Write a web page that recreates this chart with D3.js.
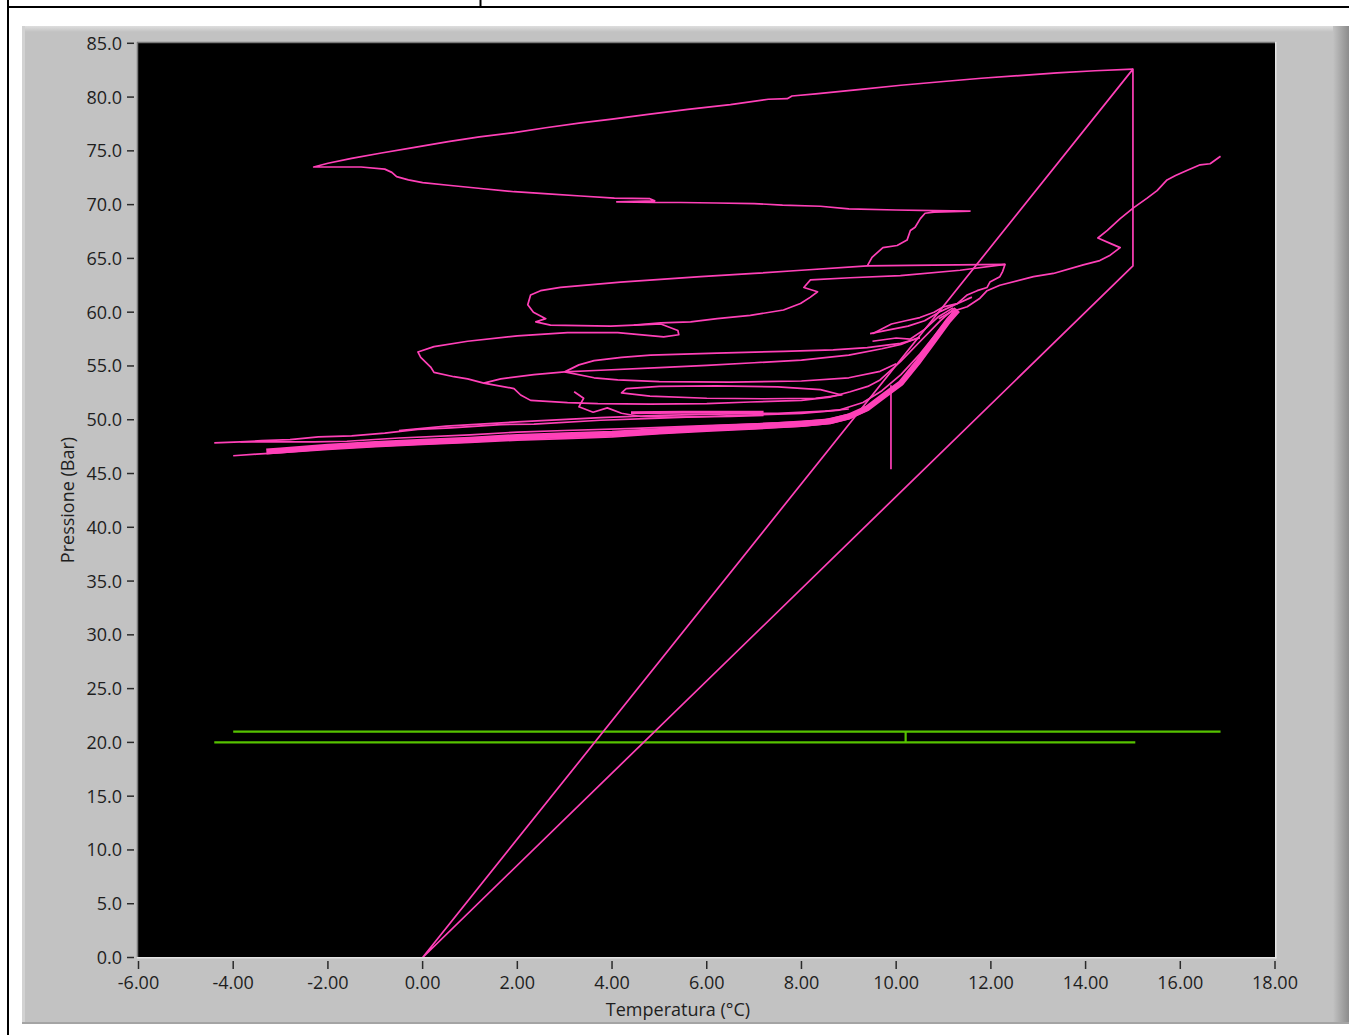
<!DOCTYPE html>
<html><head><meta charset="utf-8">
<script src="https://cdn.jsdelivr.net/npm/d3@7"></script>
<style>html,body{margin:0;padding:0;background:#fff;overflow:hidden}svg{display:block}</style>
</head><body>
<svg id="c" width="1349" height="1035"></svg>
<script>
// ---------- axis ticks ----------
const xTickValues = [-6,-4,-2,0,2,4,6,8,10,12,14,16,18];
const xTickLabels = ["-6.00","-4.00","-2.00","0.00","2.00","4.00","6.00","8.00","10.00","12.00","14.00","16.00","18.00"];
const yTickValues = [0,5,10,15,20,25,30,35,40,45,50,55,60,65,70,75,80,85];
const yTickLabels = ["0.0","5.0","10.0","15.0","20.0","25.0","30.0","35.0","40.0","45.0","50.0","55.0","60.0","65.0","70.0","75.0","80.0","85.0"];
const xTitle = "Temperatura (°C)";
const yTitle = "Pressione (Bar)";

// ---------- pink trace (Temperatura, Pressione) ----------
const pinkFrame = [[0,0],[15.0,82.6],[15.0,64.3],[0,0]];

const pinkUpperLoop = [[15.0,82.6],[14.2,82.45],[13.4,82.25],[12.6,82.0],[11.8,81.75],[11.0,81.45],[10.1,81.1],[9.2,80.7],[8.3,80.3],[7.8,80.1],[7.7,79.85],[7.3,79.8],[6.5,79.3],[5.6,78.85],[4.76,78.4],[4.0,77.95],[3.34,77.6],[2.6,77.15],[1.93,76.7],[1.2,76.3],[0.54,75.85],[-0.2,75.3],[-0.87,74.8],[-1.5,74.3],[-2.0,73.85],[-2.3,73.5],
 [-1.9,73.5],[-1.3,73.5],[-0.8,73.3],[-0.65,73.0],[-0.55,72.6],[-0.3,72.3],[0.0,72.05],[0.54,71.8],[1.23,71.5],[1.93,71.2],[2.65,71.0],[3.34,70.8],[4.05,70.6],[4.8,70.55],[4.9,70.35],[4.1,70.25],[4.9,70.2],[5.45,70.2],[6.2,70.15],[7.0,70.1],[7.6,69.95],[8.4,69.85],[9.0,69.6],[10.0,69.5],[10.8,69.45],[11.56,69.4],[10.8,69.3],[10.61,69.2],[10.51,68.7],[10.40,67.9],[10.30,67.6],[10.23,66.7],[10.02,66.2],[9.72,66.0],[9.49,65.1],[9.39,64.3],
 [10.3,64.35],[11.3,64.4],[12.3,64.45],[12.25,63.8],[12.19,63.3],[11.98,62.8],[11.92,62.3],[11.71,62.0],[11.50,61.6],[11.29,60.8],[11.0,60.5],[10.8,60.0],[10.5,59.5],[10.2,59.2],[9.9,58.9],[9.5,58.0]];

const pinkMidLoop = [[9.39,64.3],[8.0,63.9],[7.0,63.6],[5.87,63.3],[4.18,62.8],[2.91,62.3],[2.49,62.0],[2.28,61.6],[2.22,60.7],[2.34,60.0],[2.6,59.4],[2.39,59.1],[2.70,58.8],[3.97,58.7],[4.46,58.8],[5.03,58.9],[5.39,58.3],[5.41,57.9],[5.09,57.7],[4.12,58.1],[3.06,58.1],[2.0,57.8],[0.95,57.3],[0.24,56.8],[-0.10,56.3],[-0.04,55.8],[0.17,54.9],[0.24,54.4],[0.66,54.0],[0.95,53.8],[1.29,53.4],[1.93,52.9],[2.07,52.3],[2.28,51.8],[3.06,51.6],[3.70,51.5],[4.81,51.45],[6.0,51.5],[6.92,51.65],[8.0,51.8],[8.6,52.1],[9.03,52.6],[9.4,53.1],[9.66,53.7],[10.09,55.4],[10.51,57.3],[10.93,59.2],[11.24,60.4]];

const pinkWiggleBranch = [[12.3,64.45],[11.35,63.9],[10.09,63.4],[9.03,63.2],[8.19,63.0],[8.05,62.3],[8.34,61.9],[8.19,61.4],[7.98,60.8],[7.62,60.2],[6.92,59.7],[6.22,59.4],[5.66,59.1],[5.03,59.0],[4.46,58.8]];

const pinkRightBranch = [[16.85,74.5],[16.63,73.8],[16.42,73.7],[16.15,73.2],[15.9,72.7],[15.72,72.3],[15.51,71.3],[15.30,70.6],[15.01,69.7],[14.73,68.7],[14.46,67.6],[14.26,66.9],[14.52,66.4],[14.73,66.0],[14.52,65.3],[14.3,64.8],[13.95,64.4],[13.32,63.6],[12.90,63.3],[12.19,62.5],[11.92,62.0],[11.77,61.3],[11.50,60.5],[11.14,60.0],[10.9,59.4]];

const pinkLoopBranch = [[1.29,53.4],[1.65,53.8],[2.35,54.2],[3.0,54.45],[3.76,54.6],[5.0,54.85],[6.0,55.05],[7.0,55.3],[8.0,55.55],[9.0,56.0],[9.7,56.6],[10.1,57.0],[10.5,57.7]];
const pinkLoopUpperArm = [[3.0,54.45],[3.3,55.1],[3.62,55.5],[4.2,55.8],[4.81,56.0],[6.22,56.2],[7.62,56.35],[8.67,56.5],[9.39,56.7],[10.09,57.1],[10.5,57.6]];
const pinkLoopLowerArm = [[3.0,54.45],[3.62,53.9],[4.12,53.7],[5.0,53.55],[6.5,53.5],[8.0,53.6],[9.0,53.9],[9.66,54.5],[10.0,55.2]];
const pinkEllipse = [[4.3,52.9],[5.0,53.1],[6.2,53.15],[7.5,53.05],[8.4,52.8],[8.85,52.3],[8.3,52.0],[7.2,51.95],[6.0,52.0],[4.8,52.2],[4.2,52.5],[4.3,52.9]];
const pinkTangle = [[3.2,52.6],[3.4,52.0],[3.3,51.2],[3.6,50.7],[3.9,51.1],[4.2,50.6],[4.6,50.3],[5.3,50.25],[6.5,50.3],[7.2,50.4]];
const pinkShortThick = [[4.4,50.65],[5.5,50.7],[7.2,50.7]];
const pinkCluster1 = [[9.45,58.0],[9.9,58.4],[10.25,58.7],[10.6,59.2],[10.95,60.1],[11.3,60.8],[11.6,61.4]];
const pinkCluster2 = [[9.5,57.3],[10.0,57.6],[10.3,57.5],[10.6,58.4],[10.9,59.6],[11.2,60.4]];

const pinkBandCore = [[-3.3,47.05],[-3.0,47.15],[-2.0,47.5],[-1.0,47.75],[0.0,47.95],[1.0,48.15],[2.0,48.4],[3.0,48.55],[4.0,48.7],[5.0,48.95],[6.0,49.2],[7.0,49.4],[8.0,49.6],[8.6,49.85],[9.0,50.3],[9.4,51.1],[9.7,52.1],[10.1,53.4],[10.45,55.3],[10.8,57.4],[11.1,59.2],[11.3,60.2]];
const pinkBandLowEdge = [[-4.0,46.65],[-3.5,46.8],[-3.0,46.95],[-2.0,47.25],[-1.0,47.5],[0.0,47.7],[1.0,47.9],[2.0,48.1],[3.0,48.25],[4.0,48.4],[5.0,48.7],[6.0,48.95],[7.0,49.15],[8.0,49.4],[8.6,49.65],[9.0,50.1],[9.4,50.9]];
const pinkBandHighEdge = [[-3.85,47.95],[-3.0,47.95],[-2.3,47.95],[-1.6,48.0],[-0.5,48.3],[1.0,48.6],[2.0,48.85],[3.0,49.0],[4.5,49.2],[6.0,49.45],[7.5,49.7],[8.5,50.0],[9.1,50.6],[9.5,51.5]];
const pinkBandTopLine = [[-4.4,47.85],[-3.85,47.95],[-3.4,48.05],[-2.8,48.15],[-2.2,48.4],[-1.5,48.5],[-0.8,48.75],[-0.1,49.1],[0.6,49.25],[1.65,49.55],[2.35,49.6],[3.76,49.95],[5.0,50.15],[6.0,50.3],[7.0,50.45],[8.0,50.6],[8.8,50.9],[9.3,51.6],[9.7,52.7],[10.1,54.2],[10.5,56.1],[10.9,58.3],[11.2,60.0]];
const pinkBandTopLine2 = [[-0.5,49.0],[0.5,49.4],[2.0,49.8],[3.76,50.2],[5.0,50.4],[6.5,50.55],[7.5,50.6],[8.5,50.8],[9.0,51.0]];
const pinkVertical = [[9.89,53.2],[9.89,45.4]];

// ---------- green trace ----------
const greenLower = [[-4.4,20.0],[15.05,20.0]];
const greenUpper = [[-4.0,21.0],[16.85,21.0]];
const greenJoin = [[10.2,20.0],[10.2,21.0]];

// ---------- drawing ----------
const W = 1349, H = 1035;
const svg = d3.select('#c');
const defs = svg.append('defs');

// page frame lines
svg.append('rect').attr('x',7).attr('y',0).attr('width',2).attr('height',H).attr('fill','#000');
svg.append('rect').attr('x',7).attr('y',6).attr('width',W-7).attr('height',2).attr('fill','#000');
svg.append('rect').attr('x',479.5).attr('y',0).attr('width',2).attr('height',7).attr('fill','#000');

// panel
const gTop = defs.append('linearGradient').attr('id','gTop').attr('x1',0).attr('y1',0).attr('x2',0).attr('y2',1);
gTop.append('stop').attr('offset',0).attr('stop-color','#dedede');
gTop.append('stop').attr('offset',1).attr('stop-color','#c2c2c2');
const gRight = defs.append('linearGradient').attr('id','gRight').attr('x1',0).attr('y1',0).attr('x2',1).attr('y2',0);
gRight.append('stop').attr('offset',0).attr('stop-color','#c2c2c2');
gRight.append('stop').attr('offset',1).attr('stop-color','#8c8c8c');

svg.append('rect').attr('x',22).attr('y',26).attr('width',W-22).attr('height',998).attr('fill','#c2c2c2');
svg.append('rect').attr('x',22).attr('y',26).attr('width',W-22).attr('height',6).attr('fill','url(#gTop)');
svg.append('rect').attr('x',22).attr('y',26).attr('width',3).attr('height',998).attr('fill','#d2d2d2');
svg.append('rect').attr('x',1333).attr('y',26).attr('width',16).attr('height',998).attr('fill','url(#gRight)');
svg.append('rect').attr('x',22).attr('y',1022).attr('width',W-22).attr('height',2).attr('fill','#a4a4a4');

// plot area
const PL = 137, PR = 1275, PT = 42, PB = 957;
svg.append('rect').attr('x',PL).attr('y',PT).attr('width',PR-PL).attr('height',PB-PT).attr('fill','#000');
svg.append('line').attr('x1',PL+0.5).attr('x2',PL+0.5).attr('y1',PT).attr('y2',PB).attr('stroke','#7a7a7a').attr('stroke-width',1.5);
svg.append('line').attr('x1',PL).attr('x2',PR).attr('y1',PT+0.5).attr('y2',PT+0.5).attr('stroke','#7a7a7a').attr('stroke-width',1.5);
svg.append('line').attr('x1',PR+0.75).attr('x2',PR+0.75).attr('y1',PT).attr('y2',PB+1.5).attr('stroke','#e4e4e4').attr('stroke-width',1.5);
svg.append('line').attr('x1',PL).attr('x2',PR+1.5).attr('y1',PB+0.75).attr('y2',PB+0.75).attr('stroke','#e4e4e4').attr('stroke-width',1.5);

const x = d3.scaleLinear().domain([-6,18]).range([138.5,1275]);
const y = d3.scaleLinear().domain([0,85]).range([957.5,43.3]);

defs.append('clipPath').attr('id','clip').append('rect').attr('x',PL+1).attr('y',PT+1).attr('width',PR-PL-1).attr('height',PB-PT-1);

// axes
const font = "'Open Sans', 'Noto Sans', sans-serif";
const yAxis = svg.append('g');
yTickValues.forEach((v,i)=>{
  yAxis.append('line').attr('x1',127).attr('x2',134).attr('y1',y(v)).attr('y2',y(v)).attr('stroke','#2a2a2a').attr('stroke-width',1.5);
  yAxis.append('text').attr('x',122).attr('y',y(v)+6.5).attr('text-anchor','end')
    .attr('font-family',font).attr('font-size',18).attr('fill','#1e1e1e').text(yTickLabels[i]);
});
const xAxis = svg.append('g');
xTickValues.forEach((v,i)=>{
  xAxis.append('line').attr('x1',x(v)).attr('x2',x(v)).attr('y1',961).attr('y2',969).attr('stroke','#2a2a2a').attr('stroke-width',1.5);
  xAxis.append('text').attr('x',x(v)).attr('y',989).attr('text-anchor','middle')
    .attr('font-family',font).attr('font-size',18).attr('fill','#1e1e1e').text(xTickLabels[i]);
});
svg.append('text').attr('x',678).attr('y',1016).attr('text-anchor','middle')
  .attr('font-family',font).attr('font-size',18).attr('fill','#1e1e1e').text(xTitle);
svg.append('text').attr('transform','translate(74,500) rotate(-90)').attr('text-anchor','middle')
  .attr('font-family',font).attr('font-size',18).attr('fill','#1e1e1e').text(yTitle);

// traces
const line = d3.line().x(d=>x(d[0])).y(d=>y(d[1]));
const plot = svg.append('g').attr('clip-path','url(#clip)');
const GREEN = '#56c200', PINK = '#ff40b8';
[greenLower, greenUpper, greenJoin].forEach(s=>{
  plot.append('path').attr('d',line(s)).attr('fill','none').attr('stroke',GREEN).attr('stroke-width',2.2);
});
const thinPink = [pinkFrame, pinkUpperLoop, pinkMidLoop, pinkWiggleBranch, pinkRightBranch, pinkLoopBranch,
  pinkLoopUpperArm, pinkLoopLowerArm, pinkEllipse, pinkTangle, pinkCluster1, pinkCluster2,
  pinkBandLowEdge, pinkBandHighEdge, pinkBandTopLine, pinkBandTopLine2, pinkVertical];
thinPink.forEach(s=>{
  plot.append('path').attr('d',line(s)).attr('fill','none').attr('stroke',PINK).attr('stroke-width',1.7).attr('stroke-linejoin','round');
});
plot.append('path').attr('d',line(pinkBandCore)).attr('fill','none').attr('stroke',PINK).attr('stroke-width',6).attr('stroke-linejoin','round').attr('stroke-linecap','butt');
plot.append('path').attr('d',line(pinkShortThick)).attr('fill','none').attr('stroke',PINK).attr('stroke-width',3);
</script>
</body></html>
